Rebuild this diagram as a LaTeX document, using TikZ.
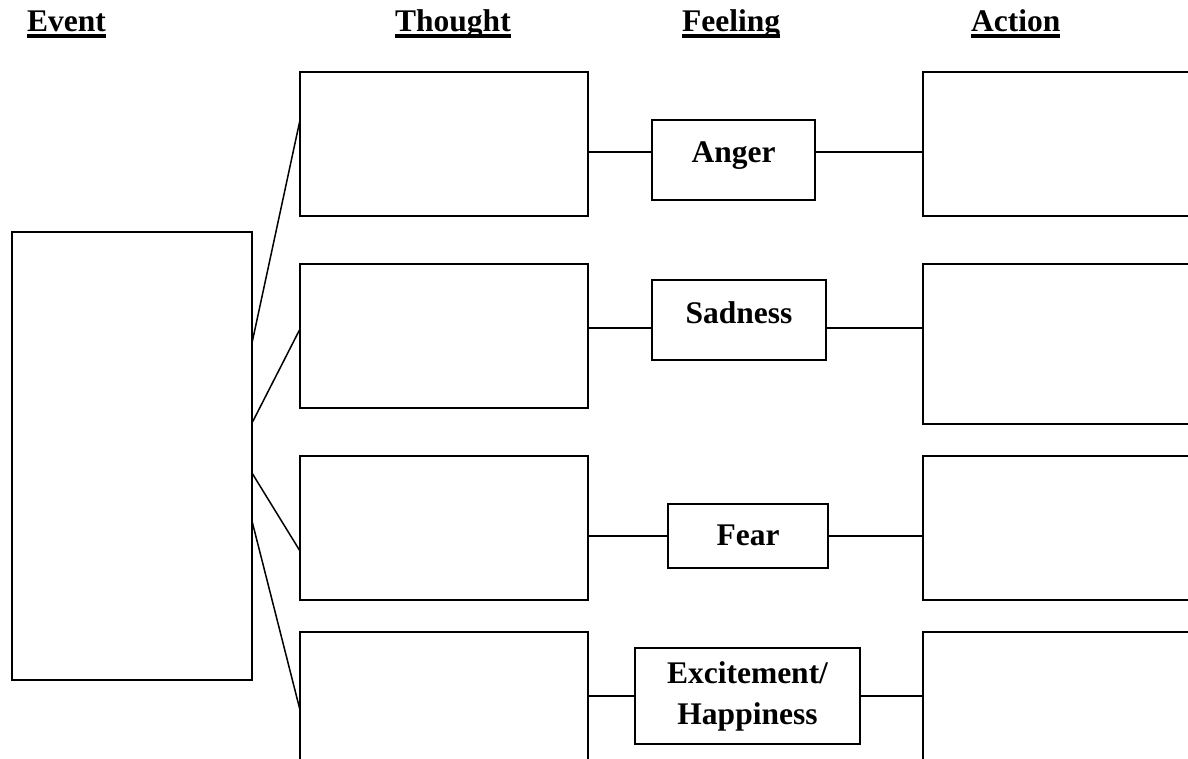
\documentclass[tikz,border=0pt]{standalone}
\usepackage{fontspec}
\setmainfont{Liberation Serif}
\usetikzlibrary{calc}
\newcommand\hdrline[1]{\setbox0\hbox{#1}\rlap{\rule[-6.5pt]{\wd0}{4pt}}\box0}
\begin{document}
\begin{tikzpicture}[x=1pt,y=-1pt,
  tbox/.style={draw, line width=1.8pt, outer sep=0pt, inner sep=0pt, anchor=north west},
  fbox/.style={tbox, font=\bfseries\fontsize{31.5}{41}\selectfont},
  hdr/.style={anchor=base west, inner sep=0pt, font=\bfseries\fontsize{31.5}{38}\selectfont},
  conn/.style={line width=1.5pt}]
\useasboundingbox (0,0) rectangle (1188,759);
\fill[white] (0,0) rectangle (1188,759);
\clip (0,0) rectangle (1188,759);
% headers
\node[hdr] (hev) at (27,32) {\hdrline{Event}};
\node[hdr] (hth) at (395,32) {\hdrline{Thought}};
\node[hdr] (hfe) at (682,32) {\hdrline{Feeling}};
\node[hdr] (hac) at (971,32) {\hdrline{Action}};
% event
\node[tbox, minimum width=240pt, minimum height=448pt] (ev) at (12,232) {};
% thoughts
\node[tbox, minimum width=288pt, minimum height=144pt] (th1) at (300,72) {};
\node[tbox, minimum width=288pt, minimum height=144pt] (th2) at (300,264) {};
\node[tbox, minimum width=288pt, minimum height=144pt] (th3) at (300,456) {};
\node[tbox, minimum width=288pt, minimum height=144pt] (th4) at (300,632) {};
% actions
\node[tbox, minimum width=300pt, minimum height=144pt] (ac1) at (923,72) {};
\node[tbox, minimum width=300pt, minimum height=160pt] (ac2) at (923,264) {};
\node[tbox, minimum width=300pt, minimum height=144pt] (ac3) at (923,456) {};
\node[tbox, minimum width=300pt, minimum height=144pt] (ac4) at (923,632) {};
% feelings
\node[fbox, minimum width=163pt, text height=43pt, text depth=37pt] (an) at (652,120) {Anger};
\node[fbox, minimum width=174pt, text height=43pt, text depth=37pt] (sa) at (652,280) {Sadness};
\node[fbox, minimum width=160pt, text height=41pt, text depth=23pt] (fe) at (668,504) {Fear};
\node[fbox, align=center, minimum width=225pt, minimum height=96pt] (ex) at (635,648) {Excitement/\\Happiness};
% event to thoughts
\draw[conn] ($(ev.east)+(0,-113)$) -- ($(th1.west)+(0,-24)$);
\draw[conn] ($(ev.east)+(0,-33)$) -- ($(th2.west)+(0,-7)$);
\draw[conn] ($(ev.east)+(0,17)$) -- ($(th3.west)+(0,23)$);
\draw[conn] ($(ev.east)+(0,65)$) -- ($(th4.west)+(0,6)$);
% rows
\coordinate (r1) at (0,152);
\coordinate (r2) at (0,328);
\coordinate (r3) at (0,536);
\coordinate (r4) at (0,696);
\draw[conn] (th1.east |- r1) -- (an.west |- r1);
\draw[conn] (an.east |- r1) -- (ac1.west |- r1);
\draw[conn] (th2.east |- r2) -- (sa.west |- r2);
\draw[conn] (sa.east |- r2) -- (ac2.west |- r2);
\draw[conn] (th3.east |- r3) -- (fe.west |- r3);
\draw[conn] (fe.east |- r3) -- (ac3.west |- r3);
\draw[conn] (th4.east |- r4) -- (ex.west |- r4);
\draw[conn] (ex.east |- r4) -- (ac4.west |- r4);
\end{tikzpicture}
\end{document}
